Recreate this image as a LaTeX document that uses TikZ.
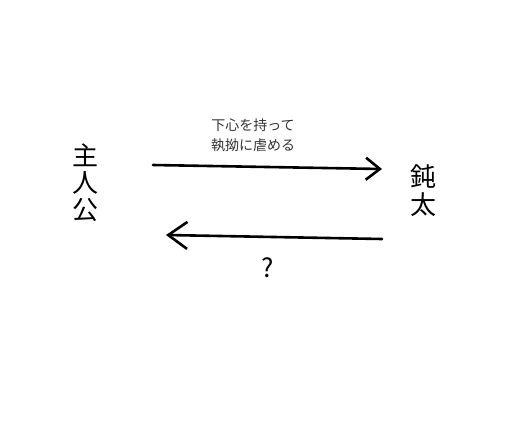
\documentclass[tikz,border=0pt]{standalone}
\usepackage{fontspec}
\newfontfamily\jp{Noto Sans CJK JP}
\usetikzlibrary{arrows.meta}
\begin{document}
\begin{tikzpicture}[x=1pt,y=-1pt,
  conn/.style={line width=2.6pt,line cap=round,line join=round},
  big/.style={font=\jp\fontsize{26}{28}\selectfont,inner sep=0pt,align=center},
  lbl/.style={font=\jp\fontsize{14}{20}\selectfont,inner sep=0pt,align=center,text=black!80}]
\useasboundingbox (0,0) rectangle (512,434);
\node[big] (hero) at (85,183) {主\\[-1pt]人\\[-1pt]公};
\node[big] (donta) at (423,191) {鈍\\[0pt]太};
\coordinate (a1s) at (153,165);
\coordinate (a1e) at (382,169);
\coordinate (a2s) at (382,239);
\coordinate (a2e) at (166,235);
\draw[conn,-{Straight Barb[length=14pt,width=22pt,line width=2.6pt]}] (a1s) -- (a1e);
\draw[conn,-{Straight Barb[length=19pt,width=27pt,line width=2.6pt]}] (a2s) -- (a2e);
\node[lbl] (l1) at (253,135) {下心を持って\\執拗に虐める};
\node[big,font=\jp\fontsize{26}{28}\selectfont] (q) at (268,268) {?};
\end{tikzpicture}
\end{document}
